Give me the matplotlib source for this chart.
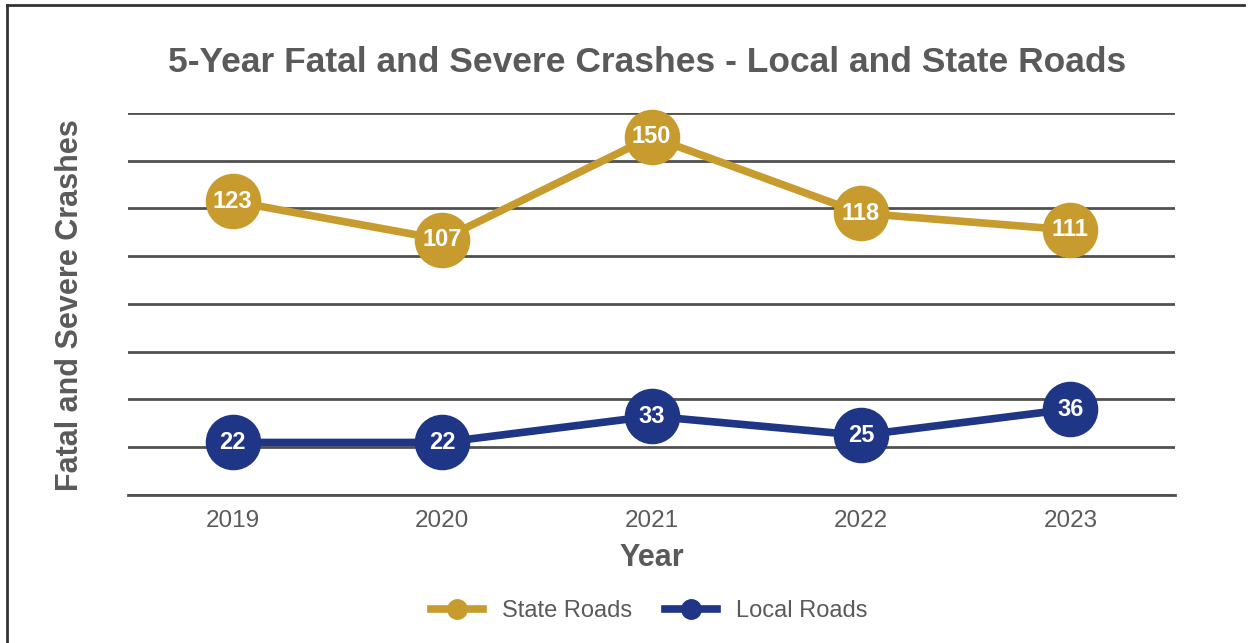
import matplotlib.pyplot as plt
from matplotlib.lines import Line2D

years = ['2019', '2020', '2021', '2022', '2023']
state_roads = [123, 107, 150, 118, 111]
local_roads = [22, 22, 33, 25, 36]

gold = '#C79B2E'
navy = '#1F3586'
gray = '#5a5a5a'
sans = ['Liberation Sans', 'DejaVu Sans']
plt.rcParams['font.family'] = sans

fig = plt.figure(figsize=(12.49, 6.43), dpi=100)
ax = fig.add_axes([0.1025, 0.2302, 0.8383, 0.5941])

x = range(len(years))
for vals, col, name in [(state_roads, gold, 'State Roads'), (local_roads, navy, 'Local Roads')]:
    ax.plot(x, vals, color=col, lw=5.5, marker='o', ms=39, label=name, clip_on=False, zorder=3)
    for i, v in enumerate(vals):
        ax.text(i, v, str(v), ha='center', va='center', color='white', fontsize=17,
                fontweight='bold', zorder=4)

ax.set_xlim(-0.5, 4.5)
ax.set_ylim(0, 160)
ax.set_yticks(range(0, 161, 20))
ax.yaxis.grid(True, color='#505050', lw=2)
ax.set_axisbelow(True)
ax.tick_params(axis='y', length=0, labelleft=False)
ax.tick_params(axis='x', length=0, pad=11, labelsize=17.5, labelcolor=gray)
ax.set_xticks(list(x))
ax.set_xticklabels(years)
for s in ['top', 'right', 'left']:
    ax.spines[s].set_visible(False)
ax.spines['bottom'].set_color('#505050')
ax.spines['bottom'].set_linewidth(2)

ax.set_xlabel('Year', fontsize=22, fontweight='bold', color=gray, labelpad=8)
fig.text(0.056, 0.525, 'Fatal and Severe Crashes', rotation=90, ha='center', va='center',
         fontsize=22, fontweight='bold', color=gray)
fig.text(0.518, 0.903, '5-Year Fatal and Severe Crashes - Local and State Roads',
         ha='center', va='center', fontsize=25.5, fontweight='bold', color=gray)

handles = [Line2D([], [], color=gold, lw=5.5, marker='o', ms=14),
           Line2D([], [], color=navy, lw=5.5, marker='o', ms=14)]
leg = fig.legend(handles, ['State Roads', 'Local Roads'], loc='center', bbox_to_anchor=(0.52, 0.05),
                 ncol=2, frameon=False, fontsize=17, handlelength=2.2, handletextpad=0.8,
                 columnspacing=1.4)
for t in leg.get_texts():
    t.set_color(gray)

# frame on top and left like the source image
fig.add_artist(Line2D([0.006, 0.006], [0.0, 0.992], color='#333333', lw=2, transform=fig.transFigure))
fig.add_artist(Line2D([0.006, 0.996], [0.992, 0.992], color='#333333', lw=2, transform=fig.transFigure))

fig.savefig('out.png', dpi=100)
